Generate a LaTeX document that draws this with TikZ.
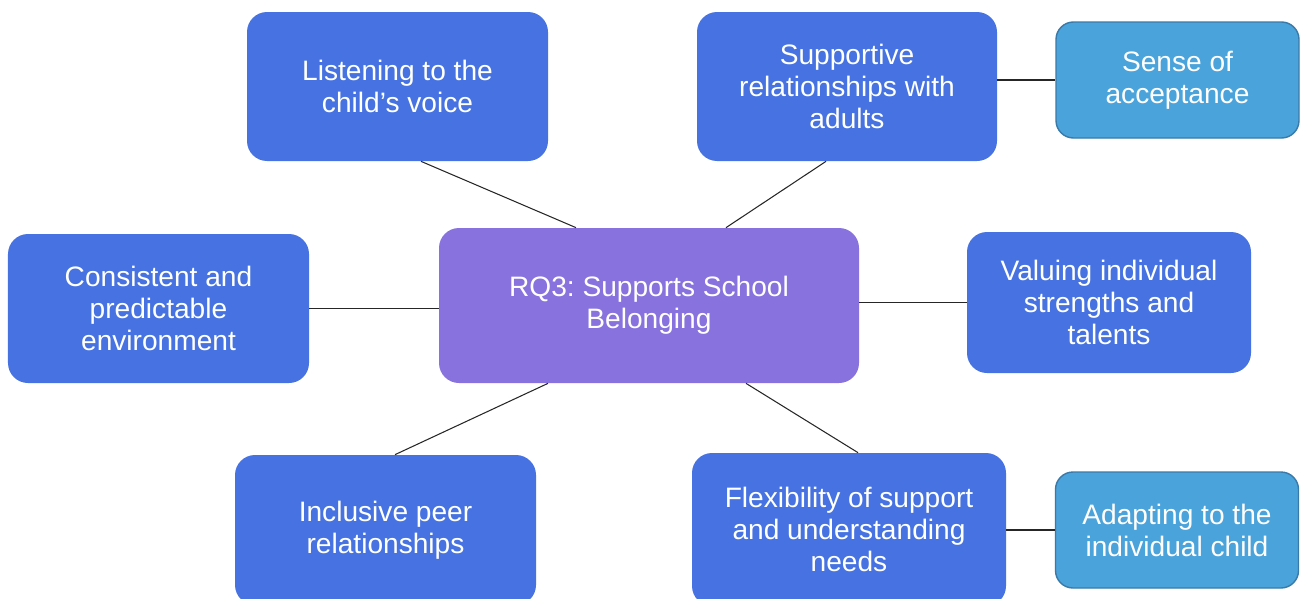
\documentclass[tikz,border=0pt]{standalone}
\usepackage{fontspec}
\setmainfont{Liberation Sans}
\usetikzlibrary{calc}
\definecolor{boxblue}{RGB}{70,115,225}
\definecolor{hubpurple}{RGB}{135,114,222}
\definecolor{subblue}{RGB}{74,163,218}
\definecolor{subedge}{RGB}{58,122,168}
\tikzset{
  theme/.style={rectangle, rounded corners=0.4cm, fill=boxblue, text=white, align=center,
    font=\fontsize{16}{18.2}\selectfont\frenchspacing, inner sep=0pt},
  hub/.style={theme, fill=hubpurple, minimum width=8.4cm, minimum height=3.1cm},
  subtheme/.style={theme, fill=subblue, draw=subedge, line width=0.8pt, rounded corners=0.35cm,
    minimum width=4.86cm, minimum height=2.32cm},
  link/.style={draw=black!85, line width=0.6pt}
}
\begin{document}
\begin{tikzpicture}
\useasboundingbox (0,0) rectangle (26.24,-11.98);
\clip (0,0) rectangle (26.24,-11.98);
% centre
\node[hub] (rq) at (12.98,-6.11) {RQ3: Supports School\\Belonging};
% themes
\node[theme, minimum width=6.02cm, minimum height=2.98cm] (lis) at (7.95,-1.73) {Listening to the\\child's voice};
\node[theme, minimum width=6.0cm, minimum height=2.98cm] (sup) at (16.94,-1.73) {Supportive\\relationships with\\adults};
\node[theme, minimum width=6.02cm, minimum height=2.98cm] (con) at (3.17,-6.17) {Consistent and\\predictable\\environment};
\node[theme, minimum width=5.68cm, minimum height=2.82cm] (val) at (22.18,-6.05) {Valuing individual\\strengths and\\talents};
\node[theme, minimum width=6.02cm, minimum height=3.0cm] (inc) at (7.71,-10.6) {Inclusive peer\\relationships};
\node[theme, minimum width=6.28cm, minimum height=3.06cm] (flx) at (16.98,-10.59) {Flexibility of support\\and understanding\\needs};
% sub themes
\node[subtheme] (acc) at (23.55,-1.6) {Sense of\\acceptance};
\node[subtheme] (adp) at (23.54,-10.6) {Adapting to the\\individual child};
% links
\draw[link] ([xshift=0.47cm]lis.south) -- ([xshift=-1.46cm]rq.north);
\draw[link] ([xshift=-0.42cm]sup.south) -- ([xshift=1.54cm]rq.north);
\draw[link] (acc.west -| sup.east) -- (acc.west);
\draw[link] (con.east) -- (con.east -| rq.west);
\draw[link] (val.west -| rq.east) -- (val.west);
\draw[link] ([xshift=0.19cm]inc.north) -- ([xshift=-2.02cm]rq.south);
\draw[link] ([xshift=0.18cm]flx.north) -- ([xshift=1.94cm]rq.south);
\draw[link] (adp.west -| flx.east) -- (adp.west);
\end{tikzpicture}
\end{document}
